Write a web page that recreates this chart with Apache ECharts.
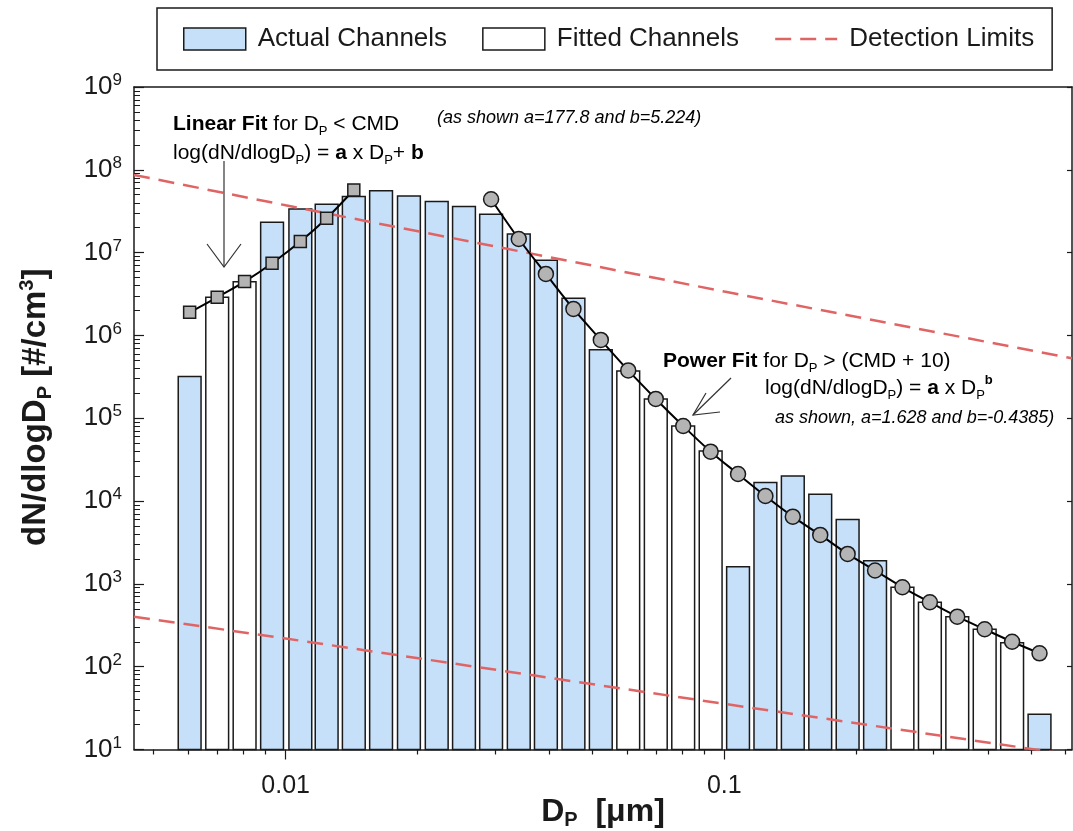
<!DOCTYPE html>
<html>
<head>
<meta charset="utf-8">
<script src="https://cdn.jsdelivr.net/npm/echarts@6/dist/echarts.min.js"></script>
<style>
  html, body { margin: 0; padding: 0; background: #fff; }
  #chart { width: 1073px; height: 831px; }
</style>
</head>
<body>
<div id="chart"></div>
<script>
// channel data, Dp in µm, dN/dlogDp in #/cm3
var actualDp = [0.00604, 0.00931, 0.0108, 0.0124, 0.0143, 0.0165, 0.0191, 0.0221, 0.0255, 0.0294, 0.0340, 0.0392, 0.0453, 0.0523, 0.1075, 0.1241, 0.1433, 0.1655, 0.1911, 0.2207, 0.5233];
var actualVal = [3.2e5, 2.33e7, 3.37e7, 3.85e7, 4.75e7, 5.6e7, 4.84e7, 4.13e7, 3.6e7, 2.91e7, 1.68e7, 8.1e6, 2.81e6, 6.7e5, 1.61e3, 1.67e4, 2.01e4, 1.21e4, 6.0e3, 1.9e3, 26.6];
var fittedDp = [0.00698, 0.00806, 0.0604, 0.0698, 0.0806, 0.0931, 0.2548, 0.2943, 0.3398, 0.3924, 0.4532];
var fittedVal = [2.9e6, 4.45e6, 3.72e5, 1.71e5, 8.07e4, 4.03e4, 910, 600, 402, 283, 195];

// fit points
var linFitDp = [0.00604, 0.00698, 0.00806, 0.00931, 0.0108, 0.0124, 0.0143];
var linFitVal = [1.9e6, 2.89e6, 4.47e6, 7.45e6, 1.36e7, 2.6e7, 5.7e7];
var powFitDp = [0.0294, 0.0340, 0.0392, 0.0453, 0.0523, 0.0604, 0.0698, 0.0806, 0.0931, 0.1075, 0.1241, 0.1433, 0.1655, 0.1911, 0.2207, 0.2548, 0.2943, 0.3398, 0.3924, 0.4532, 0.5233];
var powFitVal = [4.41e7, 1.46e7, 5.53e6, 2.09e6, 8.83e5, 3.78e5, 1.71e5, 8.07e4, 3.95e4, 2.12e4, 1.15e4, 6.48e3, 3.9e3, 2.3e3, 1.45e3, 910, 600, 402, 283, 200, 145];

// detection limits
var upperLimitDp = [0.00451, 0.01, 0.1, 0.6206];
var upperLimitVal = [8.67e7, 3.73e7, 3.39e6, 5.3e5];
var lowerLimitDp = [0.00451, 0.01, 0.1, 0.6206];
var lowerLimitVal = [402, 219, 35.6, 8.6];

// axes
var xMin = 0.00451, xMax = 0.6206, yMin = 10, yMax = 1e9;
var xMajorTicks = [0.01, 0.1];
var yMajorTicks = [10, 1e2, 1e3, 1e4, 1e5, 1e6, 1e7, 1e8, 1e9];

var xMinorTicks = [];
[0.001, 0.01, 0.1].forEach(function (d) {
    for (var k = 2; k <= 9; k++) xMinorTicks.push(+(k * d).toPrecision(3));
});
var yMinorTicks = [];
for (var e = 1; e < 9; e++) {
    for (var k = 2; k <= 9; k++) yMinorTicks.push(k * Math.pow(10, e));
}

var FONT = 'Liberation Sans, Arial, sans-serif';
var INK = '#1a1a1a';
var BLUE = '#c6e0fa';
var RED = '#e06464';

function pairs(xs, ys) {
    return xs.map(function (x, i) { return [x, ys[i]]; });
}

// bars span a fixed fraction of the channel in log space
var halfW = 0.026;
function renderBar(params, api) {
    var f = Math.pow(10, halfW);
    var x = api.value(0);
    var p1 = api.coord([x / f, api.value(1)]);
    var p2 = api.coord([x * f, yMin]);
    return {
        type: 'rect',
        shape: {x: p1[0], y: p1[1], width: p2[0] - p1[0], height: p2[1] - p1[1]},
        style: api.style()
    };
}

var annRich = {
    r: {fontFamily: FONT, fontSize: 21, lineHeight: 28, color: INK},
    b: {fontFamily: FONT, fontSize: 21, lineHeight: 28, fontWeight: 'bold', color: INK},
    sub: {fontFamily: FONT, fontSize: 13, lineHeight: 13, verticalAlign: 'bottom', color: INK},
    sup: {fontFamily: FONT, fontSize: 13, lineHeight: 13, verticalAlign: 'top', fontWeight: 'bold', color: INK},
    i: {fontFamily: FONT, fontSize: 18, lineHeight: 28, fontStyle: 'italic', color: '#333'}
};

function label(x, y, text) {
    return {
        type: 'text', x: x, y: y, z: 10,
        style: {text: text, rich: annRich, verticalAlign: 'middle', align: 'left'}
    };
}

var arrowStyle = {stroke: '#333', lineWidth: 1.2, fill: null};

var chart = echarts.init(document.getElementById('chart'));

var option = {
    animation: false,
    backgroundColor: '#fff',
    grid: {left: 134, top: 87, right: 1, bottom: 81.5, containLabel: false, outerBoundsMode: 'none'},
    legend: {
        left: 157, top: 8,
        padding: [18, 18, 18, 26],
        borderColor: INK, borderWidth: 1.5,
        itemWidth: 62, itemHeight: 22, itemGap: 35,
        textStyle: {fontFamily: FONT, fontSize: 26, color: INK, padding: [0, 0, 0, 7]},
        data: [
            {name: 'Actual Channels', icon: 'rect', itemStyle: {color: BLUE, borderColor: INK, borderWidth: 1.5}},
            {name: 'Fitted Channels', icon: 'rect', itemStyle: {color: '#fff', borderColor: INK, borderWidth: 1.5}},
            {name: 'Detection Limits', itemStyle: {color: 'rgba(0,0,0,0)', borderWidth: 0, opacity: 0},
                lineStyle: {color: RED, width: 2.5, type: [16, 9], opacity: 1}}
        ]
    },
    xAxis: [
        {
            type: 'log', logBase: 10, min: xMin, max: xMax, position: 'bottom',
            axisLine: {lineStyle: {color: INK, width: 1.5}},
            axisTick: {customValues: xMajorTicks, length: 10, lineStyle: {color: INK, width: 1.2}},
            axisLabel: {
                customValues: xMajorTicks, margin: 24,
                fontFamily: FONT, fontSize: 25, color: INK,
                formatter: function (v) { return String(+v.toPrecision(3)); }
            },
            splitLine: {show: false},
            name: '{b|D}{s|P}{b|  [μm]}',
            nameLocation: 'middle', nameGap: 45, nameMoveOverlap: false,
            nameTextStyle: {
                rich: {
                    b: {fontFamily: FONT, fontSize: 32, fontWeight: 'bold', lineHeight: 36, color: INK},
                    s: {fontFamily: FONT, fontSize: 20, fontWeight: 'bold', lineHeight: 20, verticalAlign: 'bottom', color: INK}
                }
            }
        },
        {
            type: 'log', logBase: 10, min: xMin, max: xMax, position: 'bottom',
            axisLine: {show: false},
            axisTick: {customValues: xMinorTicks, length: 5, lineStyle: {color: INK, width: 1.2}},
            axisLabel: {show: false},
            splitLine: {show: false}
        },
        {
            type: 'log', logBase: 10, min: xMin, max: xMax, position: 'top',
            axisLine: {lineStyle: {color: INK, width: 1.5}},
            axisTick: {show: false}, axisLabel: {show: false}, splitLine: {show: false}
        }
    ],
    yAxis: [
        {
            type: 'log', logBase: 10, min: yMin, max: yMax, position: 'left',
            axisLine: {show: true, lineStyle: {color: INK, width: 1.5}},
            axisTick: {show: true, inside: true, customValues: yMajorTicks, length: 10, lineStyle: {color: INK, width: 1.2}},
            axisLabel: {
                customValues: yMajorTicks, margin: 12,
                formatter: function (v) { return '{b|10}{s|' + Math.round(Math.log10(v)) + '}'; },
                rich: {
                    b: {fontFamily: FONT, fontSize: 26, lineHeight: 30, color: INK},
                    s: {fontFamily: FONT, fontSize: 17, lineHeight: 17, verticalAlign: 'top', color: INK}
                }
            },
            splitLine: {show: false},
            name: '{b|dN/dlogD}{s|P}{b| [#/cm}{u|3}{b|]}',
            nameLocation: 'middle', nameGap: 79, nameMoveOverlap: false,
            nameTextStyle: {
                padding: [0, 0, 0, 22],
                rich: {
                    b: {fontFamily: FONT, fontSize: 33, fontWeight: 'bold', lineHeight: 38, color: INK},
                    s: {fontFamily: FONT, fontSize: 20, fontWeight: 'bold', lineHeight: 20, verticalAlign: 'bottom', color: INK},
                    u: {fontFamily: FONT, fontSize: 20, fontWeight: 'bold', lineHeight: 20, verticalAlign: 'top', color: INK}
                }
            }
        },
        {
            type: 'log', logBase: 10, min: yMin, max: yMax, position: 'left',
            axisLine: {show: false},
            axisTick: {show: true, inside: true, customValues: yMinorTicks, length: 6, lineStyle: {color: INK, width: 1}},
            axisLabel: {show: false},
            splitLine: {show: false}
        },
        {
            type: 'log', logBase: 10, min: yMin, max: yMax, position: 'right',
            axisLine: {show: true, lineStyle: {color: INK, width: 1.5}},
            axisTick: {show: true, inside: true, customValues: yMajorTicks, length: 5, lineStyle: {color: INK, width: 1.2}},
            axisLabel: {show: false},
            splitLine: {show: false}
        }
    ],
    series: [
        {
            name: 'Actual Channels', type: 'custom', renderItem: renderBar,
            encode: {x: 0, y: 1}, z: 2,
            itemStyle: {color: BLUE, borderColor: INK, borderWidth: 1.5},
            data: pairs(actualDp, actualVal)
        },
        {
            name: 'Fitted Channels', type: 'custom', renderItem: renderBar,
            encode: {x: 0, y: 1}, z: 2,
            itemStyle: {color: '#fff', borderColor: INK, borderWidth: 1.5},
            data: pairs(fittedDp, fittedVal)
        },
        {
            name: 'Detection Limits', type: 'line', symbol: 'none', z: 3, clip: true,
            lineStyle: {color: RED, width: 2.5, type: [16, 9]},
            itemStyle: {color: RED},
            data: pairs(upperLimitDp, upperLimitVal)
        },
        {
            name: 'Detection Limits', type: 'line', symbol: 'none', z: 3, clip: true,
            lineStyle: {color: RED, width: 2.5, type: [16, 9]},
            itemStyle: {color: RED},
            data: pairs(lowerLimitDp, lowerLimitVal)
        },
        {
            name: 'Linear Fit', type: 'line', z: 4, smooth: 0.3,
            symbol: 'rect', symbolSize: 12,
            lineStyle: {color: '#000', width: 2},
            itemStyle: {color: '#b4b4b4', borderColor: INK, borderWidth: 1.5},
            data: pairs(linFitDp, linFitVal)
        },
        {
            name: 'Power Fit', type: 'line', z: 4, smooth: 0.3,
            symbol: 'circle', symbolSize: 15,
            lineStyle: {color: '#000', width: 2},
            itemStyle: {color: '#b4b4b4', borderColor: INK, borderWidth: 1.5},
            data: pairs(powFitDp, powFitVal)
        }
    ],
    graphic: [
        label(173, 124, '{b|Linear Fit}{r| for D}{sub|P}{r| < CMD}'),
        label(173, 153, '{r|log(dN/dlogD}{sub|P}{r|) = }{b|a}{r| x D}{sub|P}{r|+ }{b|b}'),
        label(437, 118, '{i|(as shown a=177.8 and b=5.224)}'),
        label(663, 361, '{b|Power Fit}{r| for D}{sub|P}{r| > (CMD + 10)}'),
        label(765, 388, '{r|log(dN/dlogD}{sub|P}{r|) = }{b|a}{r| x D}{sub|P}{sup|b}'),
        label(775, 418, '{i|as shown, a=1.628 and b=-0.4385)}'),
        {type: 'line', z: 10, shape: {x1: 224, y1: 161, x2: 224, y2: 267}, style: arrowStyle},
        {type: 'polyline', z: 10, shape: {points: [[207, 244], [224, 267], [241, 244]]}, style: arrowStyle},
        {type: 'line', z: 10, shape: {x1: 731, y1: 378, x2: 693, y2: 415}, style: arrowStyle},
        {type: 'polyline', z: 10, shape: {points: [[720, 412], [693, 415], [706, 393]]}, style: arrowStyle}
    ]
};

chart.setOption(option);
</script>
</body>
</html>
